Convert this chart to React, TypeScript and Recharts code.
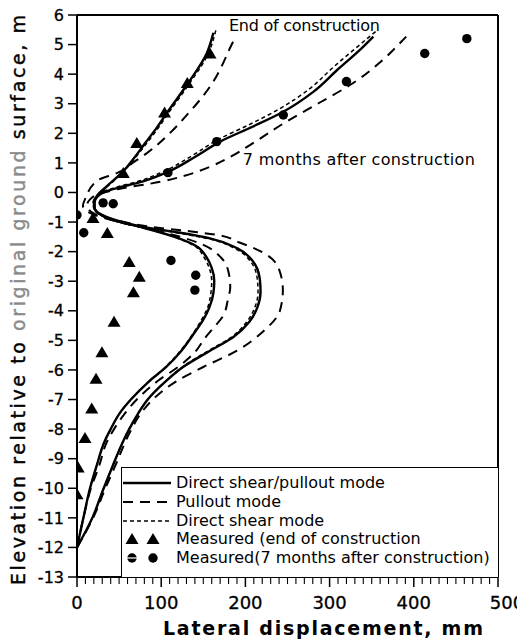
import React from "react";
import {
  ScatterChart,
  Scatter,
  XAxis,
  YAxis,
  ReferenceLine,
  ReferenceDot,
  Legend,
  Label,
} from "recharts";

type Pt = [number, number];

// computed curves, end of construction  [displacement mm, elevation m]
const endMixed: Pt[] = [
  [0, -12], [8, -10.95], [15, -10.05], [23, -9.27], [33, -8.4], [40, -8.0],
  [51, -7.45], [64, -7.0], [85, -6.4], [106, -5.9], [124, -5.35], [138, -4.8],
  [150, -4.3], [157, -3.9], [162, -3.4], [163, -3.0], [160, -2.55], [154, -2.2],
  [141, -1.8], [116, -1.5], [80, -1.2], [45, -0.95], [28, -0.75], [21, -0.55],
  [20, -0.35], [24, -0.1], [35, 0.2], [53, 0.66], [66, 1.1], [81, 1.67],
  [95, 2.2], [107, 2.7], [132, 3.7], [154, 4.7], [162, 5.4],
];
const endShear: Pt[] = [
  [0, -12], [8, -10.95], [15, -10.05], [23, -9.27], [33, -8.4], [40, -8.0],
  [51, -7.45], [64, -7.0], [85, -6.4], [105, -5.9], [123, -5.35], [137, -4.8],
  [148, -4.3], [155, -3.9], [159, -3.4], [160, -3.0], [157, -2.55], [151, -2.2],
  [139, -1.8], [117, -1.52], [82, -1.22], [46, -0.97], [28, -0.77], [20, -0.55],
  [19, -0.35], [24, -0.1], [36, 0.2], [54, 0.66], [67, 1.1], [83, 1.67],
  [97, 2.2], [109, 2.7], [134, 3.7], [156, 4.7], [165, 5.5],
];
const endPullout: Pt[] = [
  [0, -12], [8, -10.95], [16, -10.05], [26, -9.27], [36, -8.4], [44, -8.0],
  [56, -7.5], [71, -7.0], [97, -6.35], [120, -5.9], [140, -5.4], [152, -4.92],
  [163, -4.55], [174, -4.15], [179, -3.65], [182, -3.2], [180, -2.7], [171, -2.2],
  [150, -1.77], [125, -1.52], [84, -1.22], [46, -0.97], [22, -0.77], [11, -0.62],
  [7, -0.45], [10, -0.2], [25, 0.42], [48, 0.66], [66, 1.0], [83, 1.33],
  [110, 2.0], [133, 2.7], [148, 3.2], [163, 3.8], [174, 4.4], [182, 4.9],
  [189, 5.3],
];

// computed curves, 7 months after construction
const monthsMixed: Pt[] = [
  [0, -12], [19, -10.95], [31, -10.05], [42, -9.27], [55, -8.4], [62, -8.0],
  [72, -7.5], [84, -7.0], [101, -6.5], [126, -5.9], [158, -5.35], [185, -4.9],
  [205, -4.36], [214, -3.9], [218, -3.35], [217, -2.9], [209, -2.33], [190, -1.88],
  [158, -1.55], [120, -1.35], [80, -1.17], [45, -0.93], [29, -0.75], [21, -0.52],
  [21, -0.33], [30, -0.02], [50, 0.17], [73, 0.33], [105, 0.66], [140, 1.2],
  [170, 1.72], [209, 2.23], [245, 2.73], [281, 3.41], [309, 4.14], [336, 4.82],
  [352, 5.27],
];
const monthsShear: Pt[] = [
  [0, -12], [19, -10.95], [31, -10.05], [42, -9.27], [55, -8.4], [62, -8.0],
  [72, -7.5], [84, -7.0], [101, -6.5], [125, -5.9], [156, -5.35], [183, -4.9],
  [202, -4.36], [211, -3.9], [215, -3.35], [214, -2.9], [206, -2.33], [188, -1.9],
  [157, -1.57], [120, -1.37], [80, -1.19], [45, -0.95], [28, -0.76], [20, -0.52],
  [20, -0.33], [29, 0], [48, 0.19], [71, 0.36], [102, 0.7], [137, 1.25],
  [167, 1.78], [205, 2.3], [240, 2.82], [276, 3.5], [305, 4.25], [334, 4.95],
  [355, 5.45],
];
const monthsPullout: Pt[] = [
  [0, -12], [20, -10.95], [33, -10.05], [45, -9.27], [63, -8.1], [75, -7.5],
  [90, -7.0], [117, -6.4], [150, -5.9], [190, -5.35], [221, -4.7], [241, -4.0],
  [244.5, -3.3], [240, -2.6], [226, -2.12], [210, -1.88], [190, -1.66], [170, -1.45],
  [130, -1.3], [85, -1.15], [46, -0.93], [22, -0.74], [14, -0.58], [12, -0.42],
  [15, -0.25], [26, -0.05], [50, 0.12], [99, 0.36], [126, 0.55], [158, 0.87],
  [182, 1.2], [209, 1.67], [249, 2.4], [289, 3.05], [328, 3.7], [360, 4.4],
  [387, 5.15], [391, 5.27],
];

// measured
const endMeasured: Pt[] = [
  [158, 4.7], [131, 3.7], [104, 2.7], [71, 1.67], [55, 0.66], [19, -0.86],
  [36, -1.37], [62, -2.35], [74, -2.85], [67, -3.37], [44, -4.37], [29.6, -5.4],
  [22.6, -6.3], [17.5, -7.3], [9.5, -8.3], [1.4, -9.3], [0, -10.2],
];
const monthsMeasured: Pt[] = [
  [463, 5.2], [413, 4.7], [320, 3.75], [245, 2.62], [166, 1.72], [108, 0.67],
  [31, -0.35], [43, -0.38], [0, -0.76], [8, -1.36], [111.6, -2.3], [141, -2.8],
  [140, -3.3],
];

const xLabelTicks = [0, 100, 200, 300, 400, 500];
const xMinorTicks = Array.from({ length: 51 }, (_, i) => i * 10);
const yTicks = [-13, -12, -11, -10, -9, -8, -7, -6, -5, -4, -3, -2, -1, 0, 1, 2, 3, 4, 5, 6];

const FONT = "DejaVu Sans";
const toData = (pts: Pt[]) => pts.map(([x, y]) => ({ x, y }));

const noDot = () => <g />;
const triangle = (p: any) => (
  <polygon
    points={`${p.cx},${p.cy - 6} ${p.cx - 6.5},${p.cy + 5} ${p.cx + 6.5},${p.cy + 5}`}
    fill="#000"
  />
);
const dot = (p: any) => <circle cx={p.cx} cy={p.cy} r={4.7} fill="#000" />;

const solid = { stroke: "#000", strokeWidth: 2.4 };
const longDash = { stroke: "#000", strokeWidth: 2, strokeDasharray: "10 7" };
const shortDash = { stroke: "#000", strokeWidth: 1.5, strokeDasharray: "4 3" };

const renderXTick = (p: any) => {
  const v = p.payload.value;
  const major = xLabelTicks.includes(v);
  return (
    <g>
      <line x1={p.x} x2={p.x} y1={p.y} y2={p.y + (major ? 10 : 7)} stroke="#000" strokeWidth={major ? 1.5 : 1.1} />
      {major && (
        <text
          x={p.x + (v === 500 ? 9 : 0)}
          y={p.y + 25}
          textAnchor="middle"
          dominantBaseline="central"
          fontSize={18}
          fontFamily={FONT}
          fill="#000"
          stroke="#000"
          strokeWidth={0.3}
        >
          {v}
        </text>
      )}
    </g>
  );
};

const XTitle = () => (
  <text x={315} y={628} textAnchor="middle" dominantBaseline="central" fontSize={19}
    fontWeight="bold" fontFamily={FONT} fill="#000" textLength={320} lengthAdjust="spacing">
    Lateral displacement, mm
  </text>
);

const YTitle = () => (
  <text x={10} y={300} transform="rotate(-90, 10, 300)" textAnchor="middle" dominantBaseline="central"
    fontSize={19} fontFamily={FONT} fill="#000" stroke="#000" strokeWidth={0.4}
    textLength={570} lengthAdjust="spacing">
    Elevation relative to{" "}
    <tspan fill="#8a8a8a" stroke="#8a8a8a">original ground</tspan> surface, m
  </text>
);

const note = (text: string, len: number) => (props: any) => (
  <text x={props.viewBox.x} y={props.viewBox.y} dominantBaseline="central" fontSize={16}
    fontFamily={FONT} fill="#000" textLength={len} lengthAdjust="spacing">
    {text}
  </text>
);

const legendRows = [
  { text: "Direct shear/pullout mode", kind: "solid" },
  { text: "Pullout mode", kind: "long" },
  { text: "Direct shear mode", kind: "short" },
  { text: "Measured (end of construction", kind: "tri" },
  { text: "Measured(7 months after construction)", kind: "dot" },
];

const LegendBox = () => (
  <div style={{ position: "relative", width: 377, height: 110, boxSizing: "border-box",
    borderTop: "1.5px solid #000", borderLeft: "1.5px solid #000", background: "#fff",
    fontFamily: FONT, fontSize: 16, color: "#000" }}>
    {legendRows.map((r, i) => {
      const cy = 15 + i * 18.8;
      return (
        <div key={r.text} style={{ position: "absolute", left: 0, top: cy - 10, height: 20, width: 377 }}>
          <svg width={52} height={20} style={{ position: "absolute", left: 0, top: 0 }}>
            {r.kind === "solid" && <line x1={1} x2={49} y1={10} y2={10} {...solid} />}
            {r.kind === "long" && <line x1={1} x2={49} y1={10} y2={10} {...longDash} />}
            {r.kind === "short" && <line x1={1} x2={49} y1={10} y2={10} {...shortDash} />}
            {r.kind === "tri" && (
              <>
                {triangle({ cx: 10, cy: 10 })}
                {triangle({ cx: 31, cy: 10 })}
              </>
            )}
            {r.kind === "dot" && (
              <>
                {dot({ cx: 10, cy: 10 })}
                <line x1={5} x2={15} y1={10} y2={10} stroke="#fff" strokeWidth={1.2} />
                {dot({ cx: 31, cy: 10 })}
              </>
            )}
          </svg>
          <span style={{ position: "absolute", left: 54, top: 0, lineHeight: "20px", whiteSpace: "nowrap" }}>
            {r.text}
          </span>
        </div>
      );
    })}
  </div>
);

export default function App() {
  return (
    <div style={{ width: 517, height: 640, marginTop: -8 }}>
      <ScatterChart width={517} height={640} margin={{ top: 15, right: 27, bottom: 8, left: 0 }}>
        <XAxis
          type="number"
          dataKey="x"
          domain={[0, 500]}
          ticks={xMinorTicks}
          interval={0}
          tickSize={0}
          tickMargin={0}
          tickLine={false}
          tick={renderXTick}
          axisLine={{ stroke: "#000", strokeWidth: 2 }}
          height={55}
          allowDataOverflow
        >
          <Label content={XTitle} />
        </XAxis>
        <YAxis
          type="number"
          dataKey="y"
          domain={[-13, 6]}
          ticks={yTicks}
          interval={0}
          width={69}
          tickSize={9}
          tickMargin={4}
          tick={{ fill: "#000", fontSize: 16, fontFamily: FONT, stroke: "#000", strokeWidth: 0.3 }}
          tickLine={{ stroke: "#000", strokeWidth: 1.5 }}
          axisLine={{ stroke: "#000", strokeWidth: 2 }}
          allowDataOverflow
        >
          <Label content={YTitle} />
        </YAxis>
        <ReferenceLine y={6} stroke="#000" strokeWidth={2} />
        <ReferenceLine x={500} stroke="#000" strokeWidth={2} />

        <Scatter data={toData(endPullout)} line={longDash} lineJointType="monotoneY" shape={noDot} fill="#000" isAnimationActive={false} />
        <Scatter data={toData(endShear)} line={shortDash} lineJointType="monotoneY" shape={noDot} fill="#000" isAnimationActive={false} />
        <Scatter data={toData(endMixed)} line={solid} lineJointType="monotoneY" shape={noDot} fill="#000" isAnimationActive={false} />
        <Scatter data={toData(monthsPullout)} line={longDash} lineJointType="monotoneY" shape={noDot} fill="#000" isAnimationActive={false} />
        <Scatter data={toData(monthsShear)} line={shortDash} lineJointType="monotoneY" shape={noDot} fill="#000" isAnimationActive={false} />
        <Scatter data={toData(monthsMixed)} line={solid} lineJointType="monotoneY" shape={noDot} fill="#000" isAnimationActive={false} />

        <Scatter data={toData(endMeasured)} shape={triangle} fill="#000" isAnimationActive={false} />
        <Scatter data={toData(monthsMeasured)} shape={dot} fill="#000" isAnimationActive={false} />

        <ReferenceDot x={180.5} y={5.66} r={0} stroke="none" label={{ content: note("End of construction", 151) }} />
        <ReferenceDot x={197} y={1.13} r={0} stroke="none" label={{ content: note("7 months after construction", 232) }} />

        <Legend
          layout="horizontal"
          verticalAlign="middle"
          align="center"
          wrapperStyle={{ left: 113, top: 467, width: 377, height: 110 }}
          content={LegendBox}
        />
      </ScatterChart>
    </div>
  );
}
